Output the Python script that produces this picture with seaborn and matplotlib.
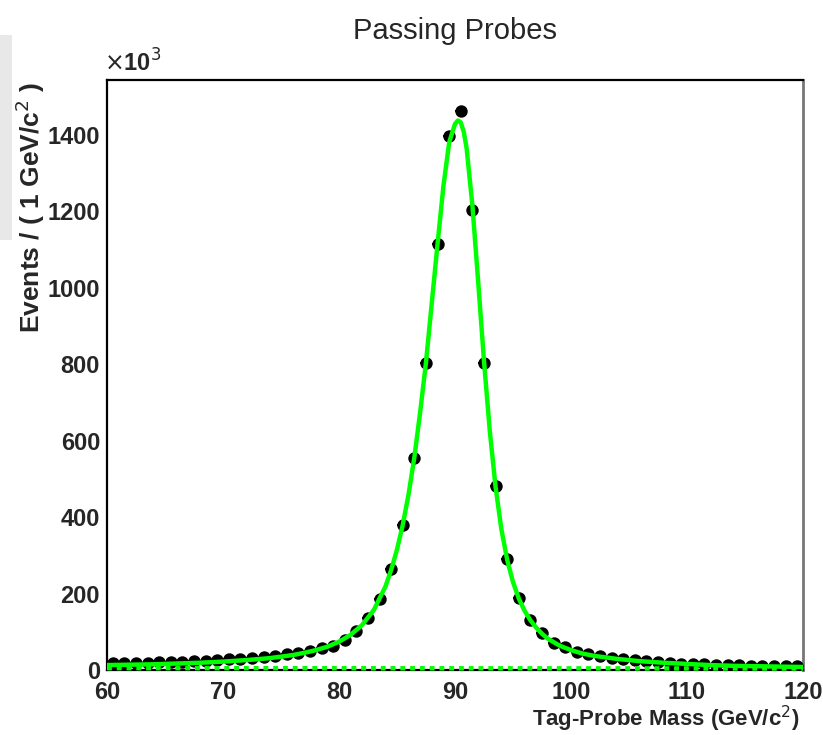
import numpy as np
import pandas as pd
import matplotlib
matplotlib.use("Agg")
import matplotlib.pyplot as plt
from matplotlib.ticker import MultipleLocator
from matplotlib.patches import Rectangle
import seaborn as sns

# --- data (units of 10^3 events per 1 GeV bin) -------------------------------
bin_centers = np.arange(60.5, 120.0, 1.0)
counts_k = [
    19, 19, 19, 19, 20, 21, 22, 23, 24, 26,
    28, 30, 32, 35, 37, 41, 45, 50, 57, 64,
    78, 102, 137, 185, 263, 378, 555, 803, 1113, 1397,
    1462, 1204, 803, 482, 290, 188, 131, 96, 70, 59,
    48, 41, 37, 32, 29, 26, 24, 21, 19, 17,
    16, 15, 14, 13, 12, 11, 11, 10, 10, 10,
]

fit_x = [60, 62, 64, 66, 68, 70, 72, 74, 75, 76, 77, 78, 79, 80, 81, 82, 83,
         84, 84.5, 85, 85.5, 86, 86.5, 87, 87.5, 88, 88.5, 89, 89.5, 90,
         90.25, 90.5, 90.75, 91, 91.5, 92, 92.5, 93, 93.5, 94, 94.5, 95,
         95.5, 96, 96.5, 97, 97.5, 98, 99, 100, 101, 102, 104, 106, 108,
         110, 112, 114, 116, 118, 120]
fit_y = [13, 14, 15, 17, 19, 22, 26, 31, 35, 39, 45, 52, 61, 74, 92, 118, 157,
         218, 262, 315, 380, 460, 557, 675, 805, 960, 1115, 1265, 1380, 1428,
         1437, 1432, 1408, 1365, 1215, 1015, 808, 625, 478, 368, 288, 230,
         187, 155, 130, 111, 95, 82, 64, 52, 43, 37, 29, 23, 19,
         16, 13, 11, 10, 9, 8]

bkg_x = [60, 120]
bkg_y = [5, 4]

x_ticks = [60, 70, 80, 90, 100, 110, 120]
y_ticks = [0, 200, 400, 600, 800, 1000, 1200, 1400]

GREEN = "#00ff00"

sns.set_style("white")
plt.rcParams["font.family"] = ["Liberation Sans", "DejaVu Sans"]

fig = plt.figure(figsize=(8.23, 7.35), dpi=100)
ax = fig.add_axes([0.130, 0.0884, 0.8457, 0.8028])

# faint grey shadow on the left edge of the canvas
fig.patches.append(Rectangle((0, 0.673), 0.015, 0.279, transform=fig.transFigure,
                             facecolor="#e8e8e8", edgecolor="none", zorder=0))

data = pd.DataFrame({"mass": bin_centers, "events": counts_k})
fit = pd.DataFrame({"mass": fit_x, "events": fit_y})
bkg = pd.DataFrame({"mass": bkg_x, "events": bkg_y})

sns.lineplot(data=bkg, x="mass", y="events", ax=ax, color=GREEN, lw=3.2,
             linestyle=(0, (1.1, 1.1)), zorder=6, clip_on=False)
ax.errorbar(data["mass"], data["events"], xerr=0.5, fmt="none",
            ecolor="black", elinewidth=1.5, zorder=3)
sns.scatterplot(data=data, x="mass", y="events", ax=ax, color="black", s=80,
                edgecolor="black", linewidth=0, zorder=4)
sns.lineplot(data=fit, x="mass", y="events", ax=ax, color=GREEN, lw=3.2, zorder=5)

ax.set_xlim(60, 120)
ax.set_ylim(0, 1543)
ax.set_xticks(x_ticks)
ax.set_yticks(y_ticks)
ax.xaxis.set_minor_locator(MultipleLocator(2))
ax.yaxis.set_minor_locator(MultipleLocator(50))
ax.tick_params(axis="both", which="major", direction="in", length=14,
               width=1.2, color="black", labelsize=17)
ax.tick_params(axis="x", which="major", pad=8)
ax.tick_params(axis="y", which="major", pad=5)
ax.tick_params(axis="both", which="minor", direction="in", length=8,
               width=1.2, color="black")
ax.tick_params(top=False, right=False, which="both")
for lab in ax.get_xticklabels() + ax.get_yticklabels():
    lab.set_fontweight("bold")

for side in ["left", "bottom", "top"]:
    ax.spines[side].set_color("black")
    ax.spines[side].set_linewidth(1.6)
ax.spines["right"].set_color("#777777")
ax.spines["right"].set_linewidth(2.0)

ax.set_xlabel("")
ax.set_ylabel("")
fig.text(0.972, 0.012, "Tag-Probe Mass (GeV/c$^{2}$)", ha="right", va="baseline",
         fontsize=16, fontweight="bold")
fig.text(0.037, 0.889, "Events / ( 1 GeV/c$^{2}$ )", ha="center", va="top",
         rotation=90, fontsize=19, fontweight="bold")
fig.text(0.126, 0.896, r"$\times$10$^{3}$", ha="left", va="bottom",
         fontsize=17, fontweight="bold")
fig.text(0.553, 0.958, "Passing Probes", ha="center", va="center", fontsize=21)

fig.savefig("out.png", dpi=100)
